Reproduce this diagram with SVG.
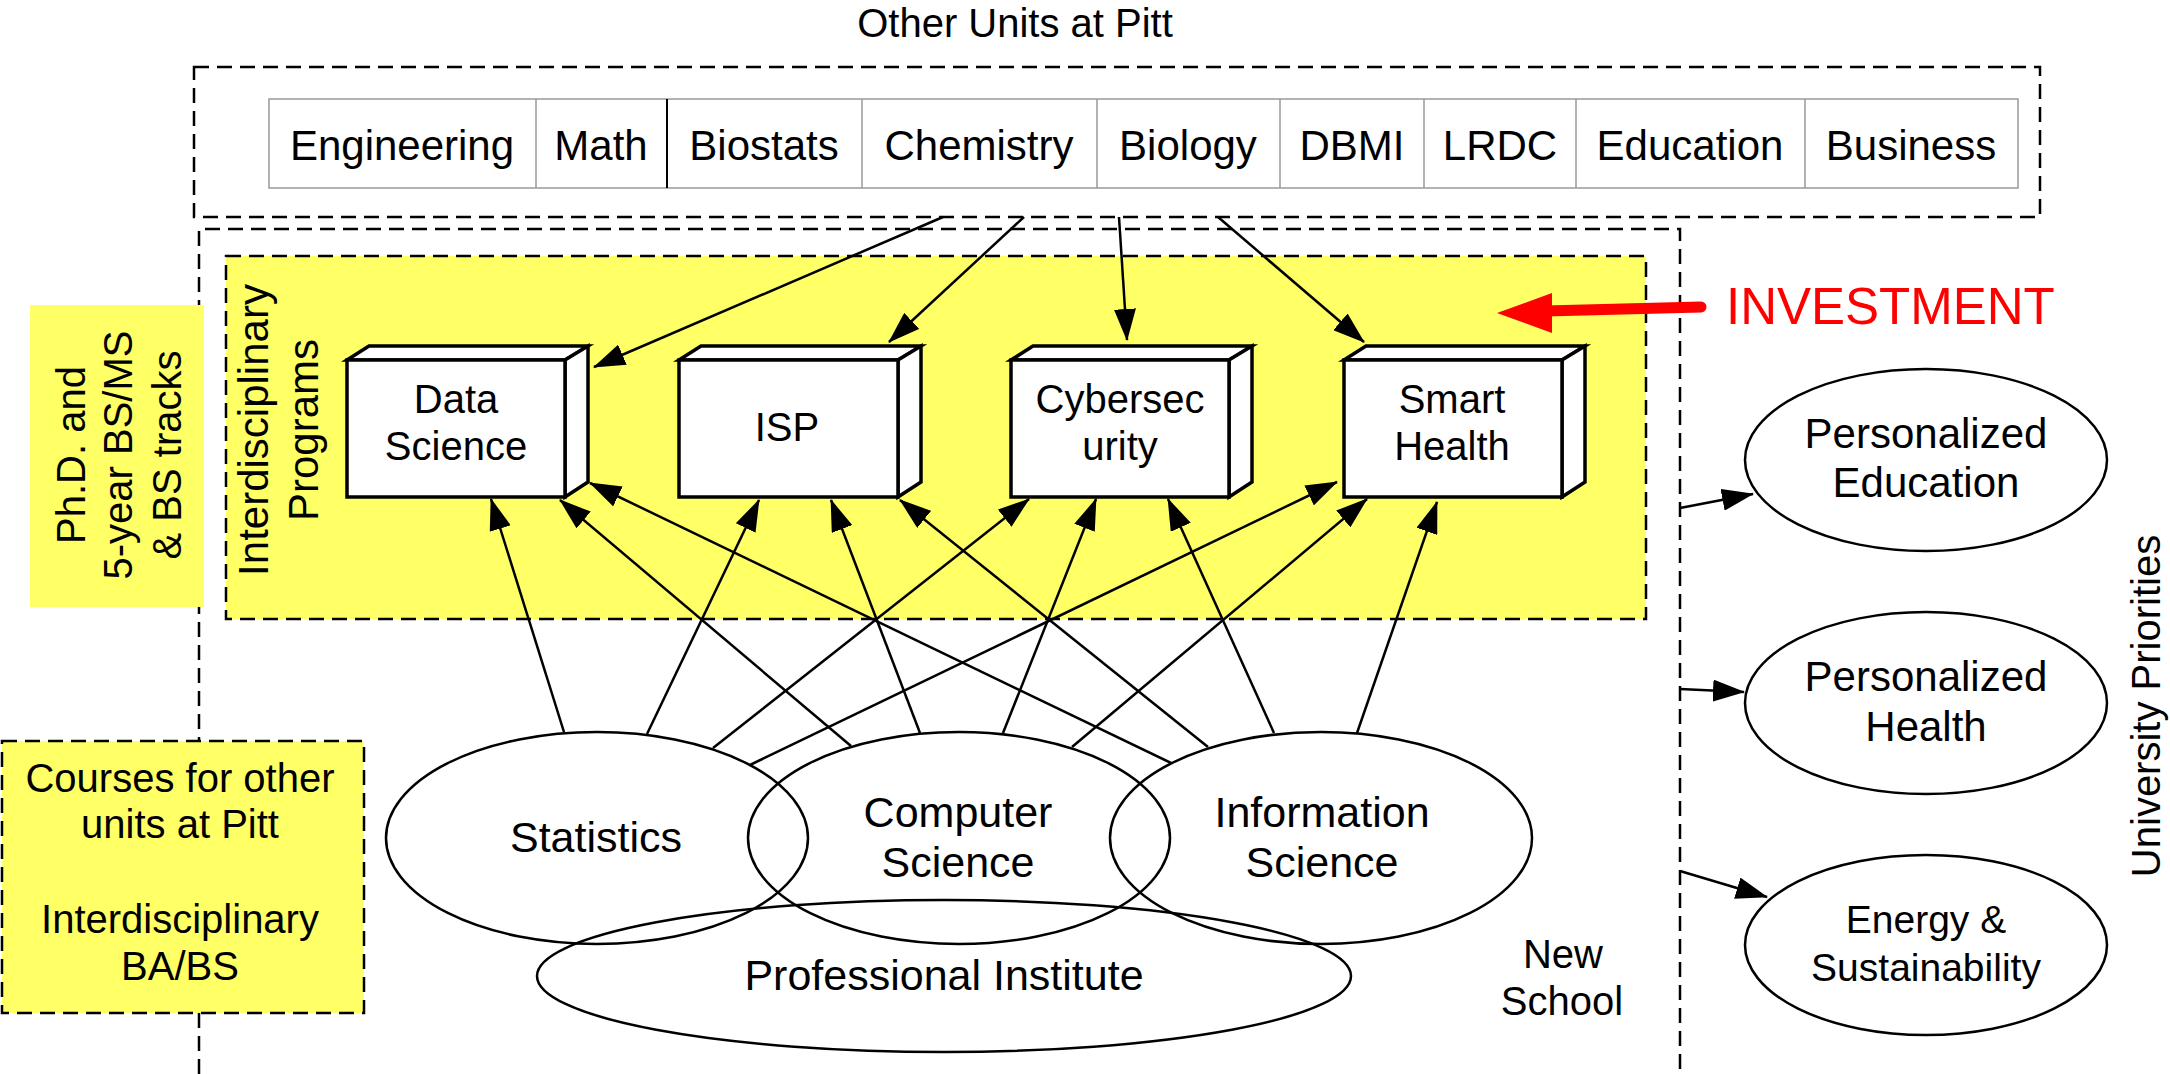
<svg xmlns="http://www.w3.org/2000/svg" width="2170" height="1074" viewBox="0 0 2170 1074">
<defs>
<marker id="ah" markerUnits="userSpaceOnUse" markerWidth="32" markerHeight="22" refX="31" refY="11" orient="auto"><path d="M0,0 L32,11 L0,22 z" fill="#000"/></marker>
</defs>
<style>
text { font-family: "Liberation Sans", Arial, Helvetica, sans-serif; fill: #000; text-anchor: middle; }
.dash { fill: none; stroke: #000; stroke-width: 2.5; stroke-dasharray: 15 8; }
.yel { fill: #FFFF66; }
.cell { fill: #fff; stroke: #999; stroke-width: 1.5; }
.box { fill: #fff; stroke: #000; stroke-width: 3.5; stroke-linejoin: miter; }
.ell { fill: none; stroke: #000; stroke-width: 2.5; }
.conn { stroke: #000; stroke-width: 2.5; fill: none; marker-end: url(#ah); }
.f40 { font-size: 40px; }
.f42 { font-size: 42px; }
.f43 { font-size: 43px; }
.f39 { font-size: 39px; }
</style>
<rect x="0" y="0" width="2170" height="1074" fill="#fff"/>

<g id="other-units">
  <text x="1015" y="37" class="f40">Other Units at Pitt</text>
  <rect x="194" y="67" width="1846" height="150" class="dash"/>
  <rect x="269" y="99" width="1749" height="89" class="cell"/>
  <g stroke="#999" stroke-width="1.5">
    <line x1="536" y1="99" x2="536" y2="188"/>
    <line x1="862" y1="99" x2="862" y2="188"/>
    <line x1="1097" y1="99" x2="1097" y2="188"/>
    <line x1="1280" y1="99" x2="1280" y2="188"/>
    <line x1="1424" y1="99" x2="1424" y2="188"/>
    <line x1="1576" y1="99" x2="1576" y2="188"/>
    <line x1="1805" y1="99" x2="1805" y2="188"/>
  </g>
  <line x1="667" y1="99" x2="667" y2="188" stroke="#000" stroke-width="2"/>
  <g class="f42">
    <text x="402" y="160">Engineering</text>
    <text x="601" y="160">Math</text>
    <text x="764" y="160">Biostats</text>
    <text x="979" y="160">Chemistry</text>
    <text x="1188" y="160">Biology</text>
    <text x="1352" y="160">DBMI</text>
    <text x="1500" y="160">LRDC</text>
    <text x="1690" y="160">Education</text>
    <text x="1911" y="160">Business</text>
  </g>
</g>

<g id="new-school">
  <path d="M199,1074 V229 H1680 V1074" class="dash"/>
  <text x="1563" y="968" class="f40">New</text>
  <text x="1562" y="1015" class="f40">School</text>
</g>

<g id="interdisciplinary-programs">
  <rect x="226" y="256" width="1420" height="363" class="yel"/>
  <rect x="226" y="256" width="1420" height="363" class="dash"/>
  <text transform="translate(268,430) rotate(-90)" class="f42">Interdisciplinary</text>
  <text transform="translate(318,430) rotate(-90)" class="f42">Programs</text>
</g>

<g id="phd-tracks">
  <rect x="30" y="305" width="174" height="302" class="yel"/>
  <text transform="translate(85,455) rotate(-90)" class="f40">Ph.D. and</text>
  <text transform="translate(132,455) rotate(-90)" class="f40">5-year BS/MS</text>
  <text transform="translate(181,455) rotate(-90)" class="f40">&amp; BS tracks</text>
</g>

<g id="courses">
  <rect x="2" y="741" width="362" height="272" class="yel"/>
  <rect x="2" y="741" width="362" height="272" class="dash"/>
  <text x="180" y="792" class="f40">Courses for other</text>
  <text x="180" y="838" class="f40">units at Pitt</text>
  <text x="180" y="933" class="f40">Interdisciplinary</text>
  <text x="180" y="980" class="f40">BA/BS</text>
</g>

<g id="connectors">
  <line x1="943" y1="217" x2="594" y2="367" class="conn"/>
  <line x1="1024" y1="217" x2="889" y2="342" class="conn"/>
  <line x1="1119" y1="217" x2="1127" y2="340" class="conn"/>
  <line x1="1218" y1="217" x2="1364" y2="342" class="conn"/>

  <line x1="564" y1="732" x2="491" y2="499" class="conn"/>
  <line x1="647" y1="734" x2="759" y2="500" class="conn"/>
  <line x1="713" y1="748" x2="1029" y2="499" class="conn"/>
  <line x1="750" y1="765" x2="1337" y2="482" class="conn"/>

  <line x1="851" y1="746" x2="560" y2="500" class="conn"/>
  <line x1="920" y1="733" x2="831" y2="500" class="conn"/>
  <line x1="1003" y1="733" x2="1096" y2="499" class="conn"/>
  <line x1="1072" y1="747" x2="1367" y2="499" class="conn"/>

  <line x1="1171" y1="763" x2="590" y2="483" class="conn"/>
  <line x1="1208" y1="747" x2="900" y2="500" class="conn"/>
  <line x1="1274" y1="733" x2="1168" y2="499" class="conn"/>
  <line x1="1357" y1="733" x2="1437" y2="502" class="conn"/>

  <line x1="1680" y1="508" x2="1753" y2="494" class="conn"/>
  <line x1="1680" y1="689" x2="1744" y2="692" class="conn"/>
  <line x1="1680" y1="871" x2="1767" y2="897" class="conn"/>
</g>

<g id="investment">
  <line x1="1545" y1="311" x2="1701" y2="307" stroke="#FF0000" stroke-width="11" stroke-linecap="round"/>
  <polygon points="1497,313 1552,293 1552,333" fill="#FF0000"/>
  <text x="1726" y="324" font-size="51" fill="#FF0000" style="text-anchor:start;fill:#FF0000">INVESTMENT</text>
</g>

<g id="data-science">
  <polygon points="347,360 369,346 588,346 565,360" class="box"/>
  <polygon points="565,360 588,346 588,482 565,497" class="box"/>
  <rect x="347" y="360" width="218" height="137" class="box"/>
  <text x="456" y="413" class="f40">Data</text>
  <text x="456" y="460" class="f40">Science</text>
</g>

<g id="isp">
  <polygon points="679,360 701,346 921,346 898,360" class="box"/>
  <polygon points="898,360 921,346 921,482 898,497" class="box"/>
  <rect x="679" y="360" width="219" height="137" class="box"/>
  <text x="787" y="441" class="f40">ISP</text>
</g>

<g id="cybersecurity">
  <polygon points="1011,360 1033,346 1252,346 1229,360" class="box"/>
  <polygon points="1229,360 1252,346 1252,482 1229,497" class="box"/>
  <rect x="1011" y="360" width="218" height="137" class="box"/>
  <text x="1120" y="413" class="f40">Cybersec</text>
  <text x="1120" y="460" class="f40">urity</text>
</g>

<g id="smart-health">
  <polygon points="1344,360 1366,346 1585,346 1562,360" class="box"/>
  <polygon points="1562,360 1585,346 1585,482 1562,497" class="box"/>
  <rect x="1344" y="360" width="218" height="137" class="box"/>
  <text x="1452" y="413" class="f40">Smart</text>
  <text x="1452" y="460" class="f40">Health</text>
</g>

<g id="statistics">
  <ellipse cx="597" cy="838" rx="211" ry="106" class="ell"/>
  <text x="596" y="852" class="f43">Statistics</text>
</g>

<g id="computer-science">
  <ellipse cx="959" cy="838" rx="211" ry="106" class="ell"/>
  <text x="958" y="827" class="f43">Computer</text>
  <text x="958" y="877" class="f43">Science</text>
</g>

<g id="information-science">
  <ellipse cx="1321" cy="838" rx="211" ry="106" class="ell"/>
  <text x="1322" y="827" class="f43">Information</text>
  <text x="1322" y="877" class="f43">Science</text>
</g>

<g id="professional-institute">
  <ellipse cx="944" cy="976" rx="407" ry="76" class="ell"/>
  <text x="944" y="990" class="f43">Professional Institute</text>
</g>

<g id="personalized-education">
  <ellipse cx="1926" cy="460" rx="181" ry="91" class="ell"/>
  <text x="1926" y="448" class="f42">Personalized</text>
  <text x="1926" y="497" class="f42">Education</text>
</g>

<g id="personalized-health">
  <ellipse cx="1926" cy="703" rx="181" ry="91" class="ell"/>
  <text x="1926" y="691" class="f42">Personalized</text>
  <text x="1926" y="741" class="f42">Health</text>
</g>

<g id="energy-sustainability">
  <ellipse cx="1926" cy="945" rx="181" ry="90" class="ell"/>
  <text x="1926" y="933" class="f39">Energy &amp;</text>
  <text x="1926" y="981" class="f39">Sustainability</text>
</g>

<g id="university-priorities">
  <text transform="translate(2160,706) rotate(-90)" class="f40">University Priorities</text>
</g>
</svg>
